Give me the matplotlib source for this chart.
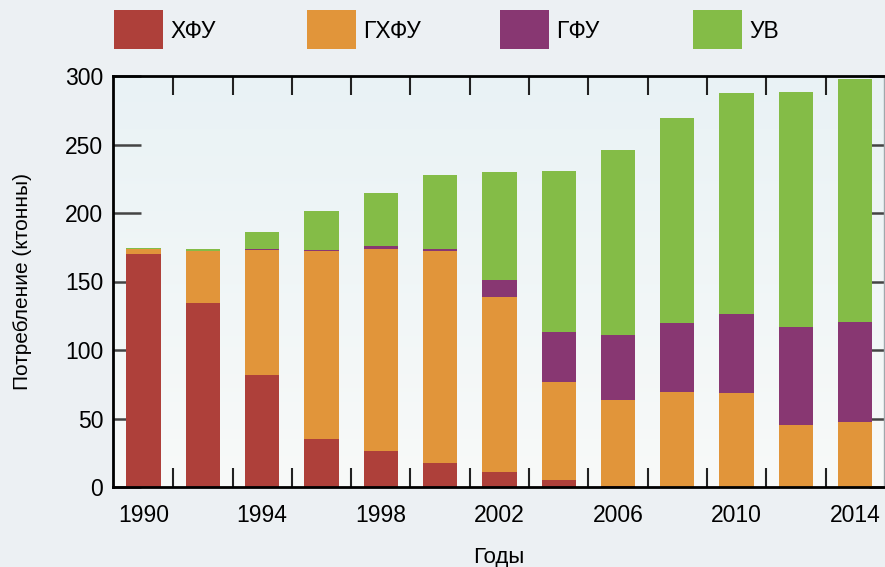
import numpy as np
import matplotlib
matplotlib.use("Agg")
import matplotlib.pyplot as plt
from matplotlib.patches import Rectangle

# data (ktonnes)
years = [1990, 1992, 1994, 1996, 1998, 2000, 2002, 2004, 2006, 2008, 2010, 2012, 2014]
cfc = [170, 134, 82, 35, 26, 17.5, 11, 5, 0.5, 0, 0, 0, 0]
hcfc = [4, 38, 91, 137, 147.5, 155, 128, 71.5, 63, 69, 68.5, 45, 47.5]
hfc = [0, 0, 0.5, 0.8, 2.2, 1.5, 12, 36.5, 47.5, 50.5, 57.5, 71.5, 73]
nat = [0.7, 1.5, 12.5, 28.5, 39, 54, 79, 117.5, 135, 149.5, 161.5, 171.5, 177.5]

labels = ["ХФУ", "ГХФУ", "ГФУ", "УВ"]
colors = ["#ae403a", "#e1953a", "#883772", "#84bc47"]
series = [cfc, hcfc, hfc, nat]
label_years = [1990, 1994, 1998, 2002, 2006, 2010, 2014]

plt.rcParams["font.family"] = ["Liberation Sans", "DejaVu Sans"]

W, H = 885, 567
fig = plt.figure(figsize=(W / 100, H / 100), dpi=100)
fig.patch.set_facecolor("#ecf0f3")

ax = fig.add_axes([113 / W, (H - 487) / H, 771 / W, 411 / H])

# vertical gradient in the plot area
grad = np.linspace(0, 1, 256).reshape(-1, 1)
top_c = np.array([0.914, 0.949, 0.961])
bot_c = np.array([0.973, 0.980, 0.976])
img = top_c * (1 - grad[..., None]) + bot_c * grad[..., None]
ax.imshow(img, extent=[0, 1, 0, 1], transform=ax.transAxes, aspect="auto", zorder=0)

bottom = np.zeros(len(years))
for vals, lab, col in zip(series, labels, colors):
    ax.bar(years, vals, width=1.157, bottom=bottom, color=col, label=lab, zorder=2)
    bottom += np.array(vals)

ax.set_xlim(1988.97, 2014.97)
ax.set_ylim(0, 300)

ax.set_yticks(range(0, 301, 50))
ax.set_xticks(label_years)
ax.set_xticks(range(1991, 2015, 2), minor=True)
ax.tick_params(axis="x", which="major", length=0, pad=12, labelsize=16.5)
ax.tick_params(axis="x", which="minor", direction="in", length=14, width=1.5,
               color="#222222", top=True, bottom=True)
ax.tick_params(axis="y", which="major", direction="in", length=20, width=1.8,
               color="#444444", pad=7, labelsize=16.5)

sec = ax.secondary_yaxis("right")
sec.set_yticks(range(0, 301, 50))
sec.tick_params(direction="in", length=11, width=1.8, color="#444444", labelright=False)
sec.spines["right"].set_visible(False)

for side in ["left", "bottom", "top"]:
    ax.spines[side].set_linewidth(2)
    ax.spines[side].set_color("black")
ax.spines["right"].set_linewidth(1)
ax.spines["right"].set_color("#a0a8ad")

ax.set_xlabel("Годы", fontsize=16)
ax.set_ylabel("Потребление (ктонны)", fontsize=15)
ax.xaxis.set_label_coords(0.5, -0.145)
ax.yaxis.set_label_coords(-0.105, 0.50)

# legend row across the top
for i, (lab, col) in enumerate(zip(labels, colors)):
    x0 = 114 + 193 * i
    fig.add_artist(Rectangle((x0 / W, (H - 49) / H), 49 / W, 39 / H,
                             transform=fig.transFigure, facecolor=col, edgecolor="none"))
    fig.text((x0 + 56) / W, (H - 31) / H, lab, fontsize=16.5, va="center", ha="left")

fig.savefig("out.png", dpi=100, facecolor=fig.get_facecolor())
